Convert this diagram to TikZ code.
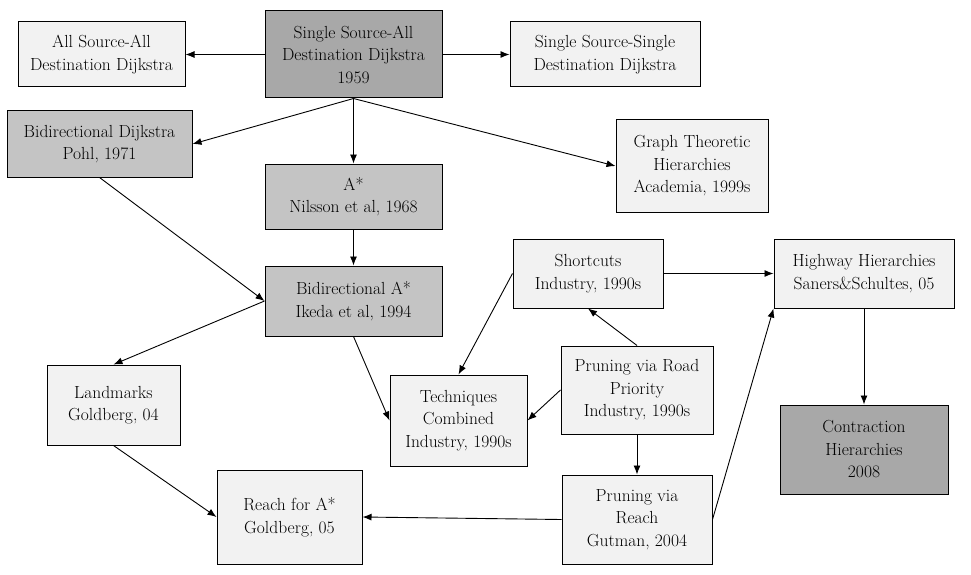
\documentclass[tikz,border=0pt]{standalone}
\usetikzlibrary{arrows.meta}
\definecolor{lightfill}{HTML}{F2F2F2}
\definecolor{midfill}{HTML}{C4C4C4}
\definecolor{darkfill}{HTML}{A8A8A8}
\tikzset{
  box/.style={draw=black, line width=1pt, align=center, inner sep=2pt,
    font=\fontsize{17.5}{22.5}\selectfont},
  lightbox/.style={box, fill=lightfill},
  midbox/.style={box, fill=midfill},
  darkbox/.style={box, fill=darkfill},
  conn/.style={draw=black, line width=0.9pt, -{Latex[length=9pt,width=7pt]}}
}
\begin{document}
\begin{tikzpicture}[x=1pt,y=-1pt]
\useasboundingbox (0,0) rectangle (971,575);
\node[lightbox, minimum width=167pt, minimum height=65pt] (allsrc) at (101.5,54.5) {All Source-All\\Destination Dijkstra};
\node[darkbox, minimum width=177pt, minimum height=87pt] (ss) at (353.5,54.5) {Single Source-All\\Destination Dijkstra\\1959};
\node[lightbox, minimum width=190pt, minimum height=65pt] (sssd) at (605,54.5) {Single Source-Single\\Destination Dijkstra};
\node[midbox, minimum width=185pt, minimum height=66pt] (bidij) at (99.5,144) {Bidirectional Dijkstra\\Pohl, 1971};
\node[midbox, minimum width=177pt, minimum height=65pt] (astar) at (353.5,196.5) {A*\\Nilsson et al, 1968};
\node[lightbox, minimum width=152pt, minimum height=92pt] (gth) at (692,166) {Graph Theoretic\\Hierarchies\\Academia, 1999s};
\node[midbox, minimum width=177pt, minimum height=70pt] (biastar) at (353.5,301) {Bidirectional A*\\Ikeda et al, 1994};
\node[lightbox, minimum width=150pt, minimum height=69pt] (shortcuts) at (588,273.5) {Shortcuts\\Industry, 1990s};
\node[lightbox, minimum width=180pt, minimum height=69pt] (highway) at (864,273.5) {Highway Hierarchies\\Saners\&Schultes, 05};
\node[lightbox, minimum width=133pt, minimum height=80pt] (landmarks) at (113.5,405) {Landmarks\\Goldberg, 04};
\node[lightbox, minimum width=137pt, minimum height=91pt] (techniques) at (458.5,420.5) {Techniques\\Combined\\Industry, 1990s};
\node[lightbox, minimum width=152pt, minimum height=88pt] (proad) at (637,390) {Pruning via Road\\Priority\\Industry, 1990s};
\node[darkbox, minimum width=168pt, minimum height=89pt] (contraction) at (864,449.5) {Contraction\\Hierarchies\\2008};
\node[lightbox, minimum width=145pt, minimum height=94pt] (reacha) at (289.5,517) {Reach for A*\\Goldberg, 05};
\node[lightbox, minimum width=150pt, minimum height=89pt] (preach) at (637,519.5) {Pruning via\\Reach\\Gutman, 2004};

\draw[conn] (ss.west) -- (allsrc.east);
\draw[conn] (ss.east) -- (sssd.west);
\draw[conn] (ss.south) -- (bidij.east);
\draw[conn] (ss.south) -- (astar.north);
\draw[conn] (ss.south) -- (gth.west);
\draw[conn] (bidij.south) -- (biastar.west);
\draw[conn] (astar.south) -- (biastar.north);
\draw[conn] (biastar.west) -- (landmarks.north);
\draw[conn] (biastar.south) -- (techniques.west);
\draw[conn] (shortcuts.west) -- (techniques.north);
\draw[conn] (shortcuts.east) -- (highway.west);
\draw[conn] (proad.north) -- (shortcuts.south);
\draw[conn] (proad.west) -- (techniques.east);
\draw[conn] (proad.south) -- (preach.north);
\draw[conn] (preach.west) -- (reacha.east);
\draw[conn] (preach.east) -- (highway.south west);
\draw[conn] (highway.south) -- (contraction.north);
\draw[conn] (landmarks.south) -- (reacha.west);
\end{tikzpicture}
\end{document}
